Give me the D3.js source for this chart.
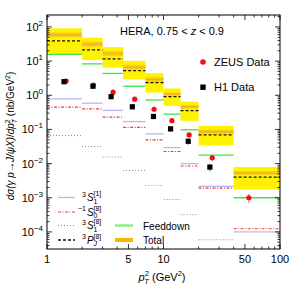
<!DOCTYPE html>
<html><head><meta charset="utf-8">
<script src="https://cdn.jsdelivr.net/npm/d3@7"></script>
<style>body{margin:0;background:#fff}text{font-family:"Liberation Sans",Arial,sans-serif}</style>
</head><body>
<script>
// bins in pT^2 (GeV^2)
var binEdges = [1, 2, 3, 4.5, 7, 10, 14, 20, 40, 100];
// total band (yellow) and inner band (orange)
var totalHigh = [91, 48.5, 25.7, 10.2, 4.45, 1.58, 0.65, 0.127, 0.0079];
var totalLow = [17, 10.8, 6.45, 2.9, 1.2, 0.49, 0.178, 0.034, 0.00174];
var innerHigh = [69, 37, 19.5, 7.8, 3.4, 1.21, 0.52, 0.098, 0.006];
var innerLow = [50, 26.4, 14, 5.6, 2.4, 0.97, 0.41, 0.075, 0.0047];
var innerMid = [58.7, 31.2, 16.5, 6.6, 2.86, 1.08, 0.46, 0.085, 0.0053];
var pwave = [38.9, 21.2, 11.7, 5.3, 2.34, 0.91, 0.355, 0.069, 0.0040];
var feeddown = [15.9, 8.3, 4.36, 1.84, 0.73, 0.28, 0.098, 0.0178, 0.001];
var s1Singlet = [0.78, 0.586, 0.36, 0.17, 0.074, 0.0295, 0.0100, 0.00216, 0.0001];
var s0Octet = [0.45, 0.40, 0.229, 0.115, 0.0495, 0.0226, 0.0085, 0.00192, 0.000124];
var s1Octet = [0.066, 0.0316, 0.0155, 0.0063, 0.0023, 0.00089, 0.00032, 0.000059, null];

// data points
var zeusX = [1.46, 2.5, 3.69, 5.66, 8.3, 11.8, 16.6, 26.2, 54];
var zeusY = [2.6, 2.0, 1.23, 0.77, 0.39, 0.18, 0.069, 0.0148, 0.001];
var zeusErr = [0.35, 0.3, 0.17, 0.1, 0.05, 0.025, 0.01, 0.003, 0.0003];
var h1X = [1.4, 2.48, 3.55, 5.4, 8.2, 11.5, 16.3, 25];
var h1Y = [2.5, 1.84, 0.91, 0.46, 0.24, 0.104, 0.045, 0.0079];
var h1Err = [0.4, 0.3, 0.15, 0.08, 0.045, 0.02, 0.01, 0.002];

var xTickVals = [1, 5, 10, 50, 100];
var yTickExps = [2, 1, 0, -1, -2, -3, -4];

var W = 289, H = 289;
var pL = 47, pR = 280, pT = 15, pB = 249;

var svg = d3.select('body').append('svg').attr('width', W).attr('height', H);

var x = d3.scaleLog().domain([1, 100]).range([pL, pR]);
var y = d3.scaleLog().domain([Math.pow(10, -4.5), Math.pow(10, 2.35)]).range([pB, pT]);

svg.append('clipPath').attr('id', 'clip').append('rect')
	.attr('x', pL).attr('y', pT).attr('width', pR - pL).attr('height', pB - pT);

var plot = svg.append('g').attr('clip-path', 'url(#clip)');

var bins = d3.range(binEdges.length - 1);

// total band
plot.selectAll('rect.tot').data(bins).enter().append('rect')
	.attr('x', function(i) { return x(binEdges[i]); })
	.attr('width', function(i) { return x(binEdges[i + 1]) - x(binEdges[i]); })
	.attr('y', function(i) { return y(totalHigh[i]); })
	.attr('height', function(i) { return y(totalLow[i]) - y(totalHigh[i]); })
	.attr('fill', '#fff200');

plot.selectAll('rect.inner').data(bins).enter().append('rect')
	.attr('x', function(i) { return x(binEdges[i]); })
	.attr('width', function(i) { return x(binEdges[i + 1]) - x(binEdges[i]); })
	.attr('y', function(i) { return y(innerHigh[i]); })
	.attr('height', function(i) { return y(innerLow[i]) - y(innerHigh[i]); })
	.attr('fill', '#f8cf14');

function binLines(vals, stroke, width, dash) {
	plot.append('g').selectAll('line').data(bins.filter(function(i) { return vals[i] != null; }))
		.enter().append('line')
		.attr('x1', function(i) { return x(binEdges[i]); })
		.attr('x2', function(i) { return x(binEdges[i + 1]); })
		.attr('y1', function(i) { return y(vals[i]); })
		.attr('y2', function(i) { return y(vals[i]); })
		.attr('stroke', stroke)
		.attr('stroke-width', width)
		.attr('stroke-dasharray', dash);
}

binLines(innerMid, '#eaa830', 1, null);
binLines(feeddown, '#44e444', 1.3, null);
binLines(s1Singlet, '#b4b8f2', 1.3, null);
binLines(s0Octet, '#ee3b3b', 1.1, '3,1.5,1,1.5');
binLines(s1Octet, '#888', 1, '1,2');
binLines(pwave, '#111', 1.3, '3,2');

// error bars
function errBars(xs, ys, es, col) {
	plot.append('g').selectAll('line').data(xs).enter().append('line')
		.attr('x1', function(d) { return x(d); })
		.attr('x2', function(d) { return x(d); })
		.attr('y1', function(d, i) { return y(ys[i] + es[i]); })
		.attr('y2', function(d, i) { return y(Math.max(ys[i] - es[i], 1e-6)); })
		.attr('stroke', col).attr('stroke-width', 1);
}
errBars(h1X, h1Y, h1Err, '#888');
errBars(zeusX, zeusY, zeusErr, '#f07070');

plot.append('g').selectAll('circle').data(zeusX).enter().append('circle')
	.attr('cx', function(d) { return x(d); })
	.attr('cy', function(d, i) { return y(zeusY[i]); })
	.attr('r', 2.6).attr('fill', '#ee1111');

plot.append('g').selectAll('rect').data(h1X).enter().append('rect')
	.attr('x', function(d) { return x(d) - 2.6; })
	.attr('y', function(d, i) { return y(h1Y[i]) - 2.6; })
	.attr('width', 5.2).attr('height', 5.2).attr('fill', '#000');

// frame
svg.append('rect').attr('x', pL).attr('y', pT).attr('width', pR - pL).attr('height', pB - pT)
	.attr('fill', 'none').attr('stroke', '#000').attr('stroke-width', 1);

// ticks
var xMinor = [];
[1, 10].forEach(function(b) { for (var m = 2; m <= 9; m++) xMinor.push(m * b); });
var yMinor = [];
for (var e = -5; e <= 2; e++) for (var m = 2; m <= 9; m++) {
	var v = m * Math.pow(10, e);
	if (v > y.domain()[0] && v < y.domain()[1]) yMinor.push(v);
}
var ticks = svg.append('g').attr('stroke', '#000').attr('stroke-width', 0.8);
function xTick(v, len) {
	ticks.append('line').attr('x1', x(v)).attr('x2', x(v)).attr('y1', pB).attr('y2', pB - len);
	ticks.append('line').attr('x1', x(v)).attr('x2', x(v)).attr('y1', pT).attr('y2', pT + len);
}
function yTick(v, len) {
	ticks.append('line').attr('y1', y(v)).attr('y2', y(v)).attr('x1', pL).attr('x2', pL + len);
	ticks.append('line').attr('y1', y(v)).attr('y2', y(v)).attr('x1', pR).attr('x2', pR - len);
}
xTickVals.forEach(function(v) { xTick(v, 5); });
xMinor.forEach(function(v) { if (xTickVals.indexOf(v) < 0) xTick(v, 2.5); });
yTickExps.forEach(function(e) { yTick(Math.pow(10, e), 5); });
yMinor.forEach(function(v) { yTick(v, 2.5); });

// tick labels
svg.append('g').selectAll('text').data(xTickVals).enter().append('text')
	.attr('x', function(d) { return x(d); }).attr('y', pB + 14)
	.attr('text-anchor', 'middle').attr('font-size', 11).text(function(d) { return d; });

var yl = svg.append('g').selectAll('text').data(yTickExps).enter().append('text')
	.attr('x', pL - 4).attr('y', function(d) { return y(Math.pow(10, d)) + 4; })
	.attr('text-anchor', 'end').attr('font-size', 11);
yl.append('tspan').text('10');
yl.append('tspan').attr('dy', -5).attr('font-size', 8).text(function(d) { return d < 0 ? '\u2212' + (-d) : d; });

// axis titles
var xt = svg.append('text').attr('x', 162).attr('y', 281).attr('text-anchor', 'middle').attr('font-size', 11);
xt.append('tspan').attr('font-style', 'italic').text('p');
xt.append('tspan').attr('font-size', 7.5).attr('dy', -5).text('2');
xt.append('tspan').attr('font-size', 7.5).attr('font-style', 'italic').attr('dx', -4.5).attr('dy', 8).text('T');
xt.append('tspan').attr('dy', -3).text(' (GeV');
xt.append('tspan').attr('font-size', 7.5).attr('dy', -5).text('2');
xt.append('tspan').attr('dy', 5).text(')');

var yt = svg.append('text').attr('transform', 'translate(14,136) rotate(-90)')
	.attr('text-anchor', 'middle').attr('font-size', 10);
yt.append('tspan').attr('font-style', 'italic').text('d\u03c3(\u03b3 p\u2192J/\u03c8X)');
yt.append('tspan').text('/');
yt.append('tspan').attr('font-style', 'italic').text('dp');
yt.append('tspan').attr('font-size', 7).attr('dy', -4).text('2');
yt.append('tspan').attr('font-size', 7).attr('font-style', 'italic').attr('dx', -4).attr('dy', 7).text('T');
yt.append('tspan').attr('dy', -3).text(' (nb/GeV');
yt.append('tspan').attr('font-size', 7).attr('dy', -4).text('2');
yt.append('tspan').attr('dy', 4).text(')');

// title
var tt = svg.append('text').attr('x', 120).attr('y', 35).attr('font-size', 11);
tt.append('tspan').text('HERA, 0.75 < ');
tt.append('tspan').attr('font-style', 'italic').text('z');
tt.append('tspan').text(' < 0.9');

// data legend
svg.append('circle').attr('cx', 203).attr('cy', 62).attr('r', 2.8).attr('fill', '#ee1111');
svg.append('text').attr('x', 214).attr('y', 66).attr('font-size', 11).text('ZEUS Data');
svg.append('rect').attr('x', 200.3).attr('y', 84.5).attr('width', 5.4).attr('height', 5.4).attr('fill', '#000');
svg.append('text').attr('x', 214).attr('y', 91).attr('font-size', 11).text('H1 Data');

// curve legend
var legRows = [
	{ y: 197.5, stroke: '#b4b8f2', w: 1.3, dash: null, pre: '3', sub: '1', sup: '[1]' },
	{ y: 212, stroke: '#ee3b3b', w: 1.1, dash: '3,1.5,1,1.5', pre: '\u22121', sub: '0', sup: '[8]' },
	{ y: 225.5, stroke: '#888', w: 1, dash: '1,2', pre: '3', sub: '1', sup: '[8]' },
	{ y: 240, stroke: '#111', w: 1.3, dash: '3,2', pre: '3', sub: 'J', sup: '[8]' }
];
var legLetters = ['S', 'S', 'S', 'P'];
legRows.forEach(function(r, i) {
	svg.append('line').attr('x1', 58).attr('x2', 75).attr('y1', r.y).attr('y2', r.y)
		.attr('stroke', r.stroke).attr('stroke-width', r.w).attr('stroke-dasharray', r.dash);
	svg.append('text').attr('x', 86).attr('y', r.y - 1).attr('text-anchor', 'end').attr('font-size', 7).text(r.pre);
	svg.append('text').attr('x', 87).attr('y', r.y + 3.5).attr('font-size', 10).attr('font-style', 'italic').text(legLetters[i]);
	svg.append('text').attr('x', 93.5).attr('y', r.y + 6).attr('font-size', 7).attr('font-style', r.sub == 'J' ? 'italic' : 'normal').text(r.sub);
	svg.append('text').attr('x', 93.5).attr('y', r.y - 1.5).attr('font-size', 7).text(r.sup);
});

svg.append('line').attr('x1', 115).attr('x2', 133).attr('y1', 225.5).attr('y2', 225.5)
	.attr('stroke', '#88f088').attr('stroke-width', 2.5);
svg.append('text').attr('x', 143).attr('y', 229.5).attr('font-size', 10).text('Feeddown');
svg.append('line').attr('x1', 115).attr('x2', 133).attr('y1', 240).attr('y2', 240)
	.attr('stroke', '#f5b800').attr('stroke-width', 4);
svg.append('text').attr('x', 143).attr('y', 244).attr('font-size', 10).text('Total');
</script>
</body></html>
